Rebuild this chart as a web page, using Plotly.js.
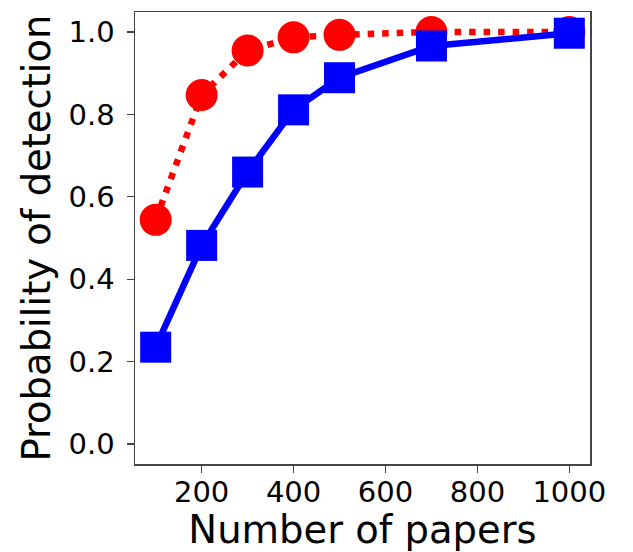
<!DOCTYPE html>
<html>
<head>
<meta charset="utf-8">
<script src="https://cdn.plot.ly/plotly-3.0.1.min.js"></script>
<style>html,body{margin:0;padding:0;background:#fff;}#chart{width:633px;height:552px;}</style>
</head>
<body>
<div id="chart"></div>
<script>
const papers = [100, 200, 300, 400, 500, 700, 1000];
const redSeries = [0.544, 0.847, 0.955, 0.987, 0.993, 1.0, 1.0];
const blueSeries = [0.235, 0.482, 0.66, 0.811, 0.889, 0.966, 0.997];
const xTicks = [200, 400, 600, 800, 1000];
const yTicks = [0.0, 0.2, 0.4, 0.6, 0.8, 1.0];
const yTickLabels = ["0.0", "0.2", "0.4", "0.6", "0.8", "1.0"];

const font = "DejaVu Sans, sans-serif";
const traces = [
  {
    x: papers, y: redSeries, type: "scatter", mode: "lines+markers",
    line: {color: "#ff0000", width: 6.5, dash: "6.5px,8px"},
    marker: {symbol: "circle", size: 32, color: "#ff0000"}
  },
  {
    x: papers, y: blueSeries, type: "scatter", mode: "lines+markers",
    line: {color: "#0000ff", width: 6.5},
    marker: {symbol: "square", size: 31, color: "#0000ff"}
  }
];
const axisCommon = {
  showgrid: false, zeroline: false, showline: true, mirror: true,
  linecolor: "#444", linewidth: 1.5, ticks: "outside", ticklen: 7,
  tickwidth: 1.2, tickcolor: "#444",
  tickfont: {family: font, size: 29, color: "#000"}
};
const layout = {
  width: 633, height: 552,
  margin: {l: 135, r: 43, t: 12, b: 88},
  paper_bgcolor: "#fff", plot_bgcolor: "#fff",
  showlegend: false,
  xaxis: Object.assign({}, axisCommon, {
    range: [55, 1045], tickvals: xTicks, ticklabelstandoff: -5,
    title: {text: "Number of papers", font: {family: font, size: 38.5, color: "#000"}, standoff: 6}
  }),
  yaxis: Object.assign({}, axisCommon, {
    range: [-0.0485, 1.0485], tickvals: yTicks, ticktext: yTickLabels, ticklabelstandoff: 6,
    title: {text: "Probability of detection", font: {family: font, size: 38.5, color: "#000"}, standoff: 6}
  })
};
Plotly.newPlot("chart", traces, layout, {displayModeBar: false, staticPlot: true});
</script>
</body>
</html>
